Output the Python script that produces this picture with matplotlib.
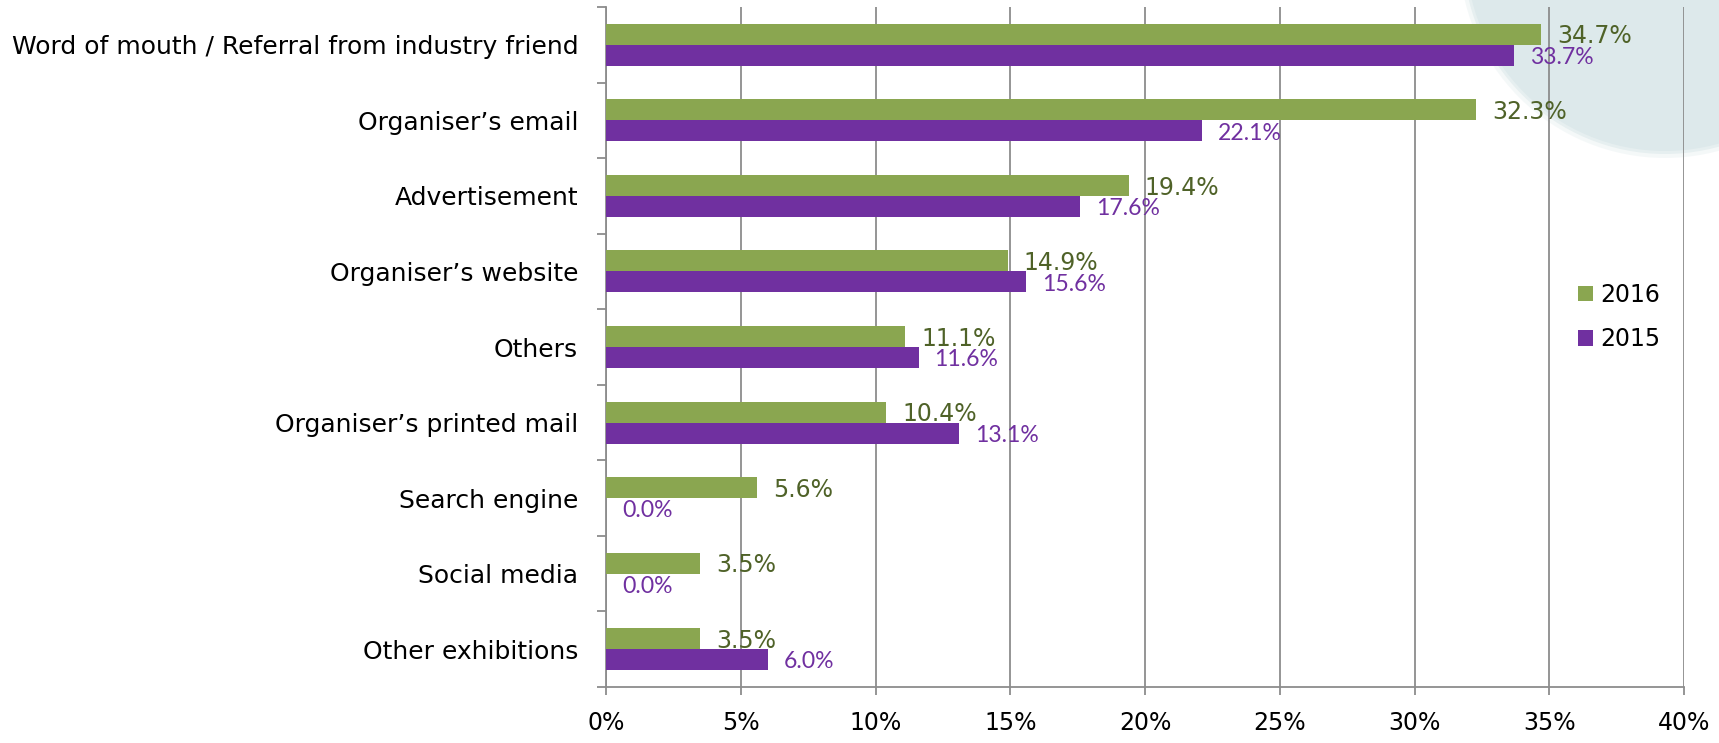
import matplotlib
matplotlib.use("Agg")
import matplotlib.pyplot as plt
from matplotlib.patches import Circle
from matplotlib.transforms import IdentityTransform
import numpy as np

# Survey data: how visitors heard about the exhibition (share of respondents, %)
categories = [
    "Word of mouth / Referral from industry friend",
    "Organiser’s email",
    "Advertisement",
    "Organiser’s website",
    "Others",
    "Organiser’s printed mail",
    "Search engine",
    "Social media",
    "Other exhibitions",
]
values_2016 = [34.7, 32.3, 19.4, 14.9, 11.1, 10.4, 5.6, 3.5, 3.5]
values_2015 = [33.7, 22.1, 17.6, 15.6, 11.6, 13.1, 0.0, 0.0, 6.0]
series_labels = ["2016", "2015"]
x_ticks = [0, 5, 10, 15, 20, 25, 30, 35, 40]

GREEN = "#8aa650"
PURPLE = "#7030a0"
GREEN_TEXT = "#4f6228"
GRID = "#8c8c8c"
MAIN_FONT = "DejaVu Sans"
LABEL_FONT = "Lato"

W, H, DPI = 1719, 743, 100
fig = plt.figure(figsize=(W / DPI, H / DPI), dpi=DPI)
fig.patch.set_facecolor("white")

# background layer with a pale decorative disc in the upper-right corner
bg = fig.add_axes([0, 0, 1, 1], zorder=-1)
bg.set_axis_off()
for r, a in [(206, 0.3), (202, 0.6), (199, 1.0)]:
    bg.add_patch(Circle((1665, H + 48), r, transform=IdentityTransform(),
                        facecolor="#dde9eb", edgecolor="none", alpha=a))

ax = fig.add_axes([606 / W, 1 - 687 / H, (1684 - 606) / W, (687 - 7) / H])
ax.patch.set_visible(False)

n = len(categories)
y = np.arange(n)
bh = 0.278
bars16 = ax.barh(y - bh / 2, values_2016, height=bh, color=GREEN, label=series_labels[0], zorder=3)
bars15 = ax.barh(y + bh / 2, values_2015, height=bh, color=PURPLE, label=series_labels[1], zorder=3)

ax.set_xlim(0, 40)
ax.set_ylim(n - 0.5, -0.5)

# value labels
for yi, v in zip(y, values_2016):
    ax.annotate(f"{v:.1f}%", xy=(v, yi - bh / 2), xytext=(11.5, -6.6), textcoords="offset points",
                ha="left", va="baseline", fontsize=17, family=MAIN_FONT, color=GREEN_TEXT, zorder=4)
for yi, v in zip(y, values_2015):
    ax.annotate(f"{v:.1f}%", xy=(v, yi + bh / 2), xytext=(11.5, -6.3), textcoords="offset points",
                ha="left", va="baseline", fontsize=16.6, family=LABEL_FONT, color=PURPLE, zorder=4)

# x axis
ax.set_xticks(x_ticks)
ax.set_xticklabels([f"{t}%" for t in x_ticks], fontsize=17, family=MAIN_FONT, color="black")
ax.tick_params(axis="x", length=5.8, width=1.3, color=GRID, pad=11.5)
ax.grid(axis="x", color=GRID, linewidth=1.3, zorder=1)
ax.set_axisbelow(True)

# y axis: labels at category centres, tick marks on category boundaries
ax.set_yticks(y)
ax.set_yticklabels(categories, fontsize=18, family=MAIN_FONT, color="black")
ax.set_yticks(np.arange(-0.5, n, 1.0), minor=True)
ax.tick_params(axis="y", which="major", length=0, pad=20)
ax.tick_params(axis="y", which="minor", length=6.5, width=1.3, color=GRID)

for side in ("top", "right"):
    ax.spines[side].set_visible(False)
for side in ("left", "bottom"):
    ax.spines[side].set_color(GRID)
    ax.spines[side].set_linewidth(1.3)

leg = fig.legend(handles=[bars16, bars15], labels=series_labels, loc="center left",
                 bbox_to_anchor=(1578 / W, 1 - 317 / H), frameon=False,
                 prop={"family": MAIN_FONT, "size": 17}, handlelength=0.64, handleheight=0.64,
                 handletextpad=0.3, labelspacing=0.85, borderpad=0, borderaxespad=0)

fig.savefig("out.png", dpi=DPI)
